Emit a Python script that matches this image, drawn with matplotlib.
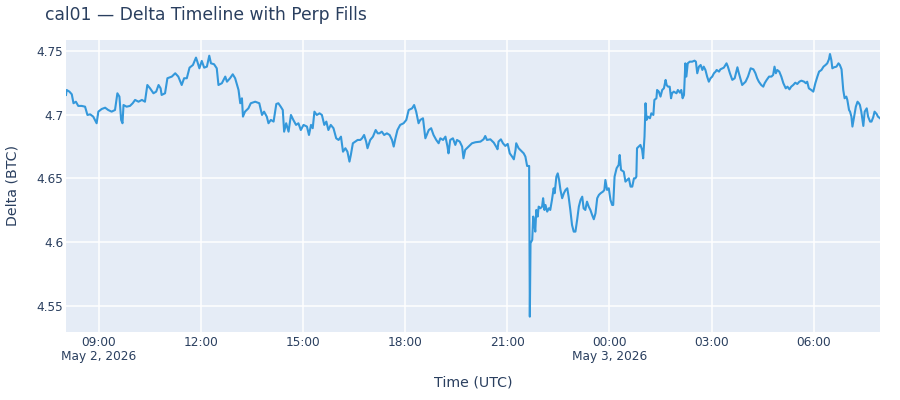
import matplotlib
matplotlib.use("Agg")
import matplotlib.pyplot as plt
import matplotlib.dates as mdates
from matplotlib.ticker import FuncFormatter
import pandas as pd

# hours since 2026-05-02 00:00 UTC
hours = [
    8.03, 8.05, 8.13, 8.20, 8.25, 8.32, 8.39, 8.49, 8.59, 8.66, 8.74, 8.83, 8.93, 8.98, 9.08, 9.18,
    9.27, 9.37, 9.47, 9.54, 9.60, 9.65, 9.69, 9.72, 9.81, 9.91, 9.99, 10.06, 10.16, 10.26, 10.35,
    10.42, 10.50, 10.60, 10.68, 10.75, 10.81, 10.84, 10.94, 11.01, 11.14, 11.24, 11.33, 11.43,
    11.50, 11.58, 11.66, 11.76, 11.85, 11.89, 11.95, 12.02, 12.09, 12.17, 12.24, 12.29, 12.38,
    12.46, 12.51, 12.61, 12.71, 12.76, 12.85, 12.93, 13.00, 13.10, 13.15, 13.20, 13.23, 13.29,
    13.39, 13.46, 13.59, 13.71, 13.79, 13.85, 13.93, 13.98,
    14.05, 14.13, 14.21, 14.27, 14.34, 14.40, 14.44, 14.50, 14.57, 14.64, 14.71, 14.79, 14.86,
    14.93, 15.01, 15.11, 15.17, 15.23, 15.28, 15.33, 15.40, 15.48, 15.55, 15.62, 15.68, 15.74,
    15.81, 15.89, 15.97, 16.04, 16.11, 16.17, 16.24, 16.30, 16.36, 16.40, 16.46, 16.53, 16.60,
    16.68, 16.73, 16.79, 16.85, 16.89, 16.97, 17.05, 17.13, 17.19, 17.24, 17.31, 17.38, 17.46,
    17.54, 17.61, 17.66, 17.71, 17.77, 17.85, 17.95, 18.03, 18.10, 18.20, 18.26, 18.32, 18.39,
    18.44, 18.52, 18.56, 18.59, 18.69, 18.76, 18.83, 18.91, 18.98, 19.03, 19.11, 19.18, 19.24,
    19.27, 19.32, 19.40, 19.47, 19.52, 19.60, 19.67, 19.71, 19.76, 19.86, 19.91,
    19.96, 20.06, 20.21, 20.30, 20.35, 20.40, 20.50, 20.60, 20.68, 20.71, 20.74, 20.81, 20.87,
    20.94, 21.01, 21.07, 21.14, 21.19, 21.24, 21.26, 21.33, 21.40, 21.48, 21.53, 21.58, 21.64,
    21.66, 21.68, 21.73, 21.76, 21.79, 21.82, 21.85, 21.89, 21.92, 21.97, 22.02, 22.05, 22.09,
    22.12, 22.17, 22.22, 22.26, 22.31, 22.36, 22.39, 22.44, 22.48, 22.52, 22.56, 22.61, 22.66,
    22.71, 22.76, 22.80, 22.85, 22.90, 22.95, 23.00, 23.05, 23.10, 23.15, 23.20, 23.24, 23.29,
    23.34, 23.39, 23.44, 23.49, 23.54, 23.59, 23.64, 23.69, 23.74, 23.81, 23.85, 23.88, 23.93,
    23.98, 24.03, 24.08, 24.11, 24.15, 24.21, 24.27, 24.30, 24.34, 24.42, 24.47, 24.52, 24.57,
    24.62, 24.67, 24.72, 24.76, 24.79, 24.81, 24.86,
    24.91, 24.96, 24.99, 25.03, 25.06, 25.09, 25.13, 25.19, 25.23, 25.29, 25.32, 25.38, 25.40,
    25.45, 25.50, 25.55, 25.60, 25.65, 25.68, 25.72, 25.77, 25.81, 25.84, 25.89, 25.97, 26.01,
    26.07, 26.11, 26.15, 26.19, 26.23, 26.26, 26.30, 26.36, 26.43, 26.50, 26.54, 26.58, 26.63,
    26.68, 26.73, 26.77, 26.82, 26.87, 26.92, 26.97, 27.02, 27.07, 27.12, 27.15, 27.22, 27.26,
    27.36, 27.44, 27.48, 27.54, 27.61, 27.68, 27.76, 27.79, 27.83, 27.90, 28.00, 28.07, 28.15,
    28.23, 28.29, 28.34, 28.39, 28.46, 28.52, 28.56, 28.62, 28.69, 28.76, 28.81, 28.85, 28.89,
    28.93, 28.99, 29.05, 29.11, 29.18, 29.23, 29.29, 29.34, 29.40, 29.46, 29.52, 29.58, 29.64,
    29.72, 29.77, 29.81, 29.86, 29.93, 29.99, 30.05, 30.11, 30.16, 30.23, 30.29, 30.35, 30.40,
    30.45, 30.48, 30.52, 30.55, 30.60, 30.67, 30.73, 30.77, 30.82, 30.87, 30.91, 30.96, 30.99,
    31.04, 31.07, 31.11, 31.14, 31.19, 31.24, 31.29, 31.33, 31.36, 31.40, 31.46, 31.50, 31.56,
    31.60, 31.66, 31.70, 31.75, 31.79, 31.85, 31.89, 31.95,
]

delta_btc = [
    4.7155, 4.7194, 4.7181, 4.7160, 4.7090, 4.7102, 4.7069, 4.7069, 4.7063, 4.6998, 4.7003, 4.6985,
    4.6933, 4.7024, 4.7045, 4.7055, 4.7037, 4.7024, 4.7037, 4.7168, 4.7142, 4.6959, 4.6933, 4.7076,
    4.7063, 4.7069, 4.7090, 4.7116, 4.7102, 4.7116, 4.7102, 4.7233, 4.7207, 4.7168, 4.7181, 4.7233,
    4.7207, 4.7155, 4.7168, 4.7286, 4.7299, 4.7325, 4.7299, 4.7233, 4.7286, 4.7286, 4.7369, 4.7390,
    4.7448, 4.7416, 4.7364, 4.7422, 4.7369, 4.7377, 4.7463, 4.7403, 4.7396, 4.7364, 4.7233, 4.7247,
    4.7299, 4.7259, 4.7286, 4.7317, 4.7286, 4.7194, 4.7090, 4.7129, 4.6985, 4.7024, 4.7050, 4.7090,
    4.7102, 4.7090, 4.6998, 4.7024, 4.6985, 4.6933,
    4.6959, 4.6946, 4.7084, 4.7090, 4.7063, 4.7037, 4.6867, 4.6933, 4.6867, 4.6998, 4.6959, 4.6920,
    4.6933, 4.6880, 4.6920, 4.6907, 4.6841, 4.6920, 4.6894, 4.7024, 4.6998, 4.7011, 4.6998, 4.6920,
    4.6946, 4.6880, 4.6920, 4.6894, 4.6815, 4.6802, 4.6828, 4.6710, 4.6737, 4.6710, 4.6632, 4.6684,
    4.6776, 4.6789, 4.6802, 4.6802, 4.6815, 4.6841, 4.6789, 4.6737, 4.6802, 4.6828, 4.6880, 4.6854,
    4.6854, 4.6867, 4.6841, 4.6854, 4.6841, 4.6802, 4.6750, 4.6815, 4.6880, 4.6920, 4.6933, 4.6959,
    4.7037, 4.7050, 4.7076, 4.7024, 4.6933, 4.6959, 4.6972, 4.6880, 4.6815, 4.6880, 4.6894, 4.6841,
    4.6802, 4.6776, 4.6815, 4.6802, 4.6828, 4.6750, 4.6697, 4.6802, 4.6815, 4.6763, 4.6802, 4.6789,
    4.6750, 4.6658, 4.6724, 4.6750, 4.6763,
    4.6776, 4.6784, 4.6789, 4.6807, 4.6833, 4.6802, 4.6807, 4.6781, 4.6745, 4.6729, 4.6789, 4.6807,
    4.6776, 4.6755, 4.6771, 4.6697, 4.6671, 4.6650, 4.6724, 4.6776, 4.6737, 4.6718, 4.6697, 4.6671,
    4.6598, 4.6598, 4.5416, 4.5992, 4.6018, 4.6201, 4.6149, 4.6083, 4.6253, 4.6201, 4.6279, 4.6266,
    4.6279, 4.6345, 4.6253, 4.6292, 4.6240, 4.6266, 4.6253, 4.6331, 4.6423, 4.6384, 4.6514, 4.6540,
    4.6488, 4.6410, 4.6345, 4.6384, 4.6410, 4.6423, 4.6357, 4.6253, 4.6135, 4.6083, 4.6083, 4.6175,
    4.6279, 4.6331, 4.6357, 4.6266, 4.6253, 4.6318, 4.6279, 4.6253, 4.6214, 4.6180, 4.6227, 4.6345,
    4.6371, 4.6384, 4.6397, 4.6410, 4.6488, 4.6410, 4.6423, 4.6331, 4.6292, 4.6292, 4.6514, 4.6580,
    4.6606, 4.6684, 4.6567, 4.6553, 4.6475, 4.6488, 4.6501, 4.6436, 4.6436, 4.6501, 4.6501, 4.6514,
    4.6737, 4.6750,
    4.6763, 4.6724, 4.6658, 4.6828, 4.7090, 4.6959, 4.6985, 4.6972, 4.7011, 4.6998, 4.7116, 4.7129,
    4.7194, 4.7181, 4.7142, 4.7194, 4.7207, 4.7273, 4.7233, 4.7220, 4.7220, 4.7129, 4.7168, 4.7181,
    4.7168, 4.7194, 4.7173, 4.7194, 4.7129, 4.7155, 4.7403, 4.7299, 4.7403, 4.7416, 4.7416, 4.7424,
    4.7416, 4.7325, 4.7377, 4.7390, 4.7351, 4.7377, 4.7351, 4.7299, 4.7259, 4.7286, 4.7299, 4.7325,
    4.7338, 4.7351, 4.7338, 4.7356, 4.7369, 4.7403, 4.7377, 4.7325, 4.7273, 4.7286, 4.7372, 4.7338,
    4.7299, 4.7233, 4.7259, 4.7299, 4.7364, 4.7356, 4.7325, 4.7286, 4.7259, 4.7233, 4.7220, 4.7247,
    4.7273, 4.7299, 4.7299, 4.7312, 4.7377, 4.7325, 4.7351, 4.7338, 4.7299, 4.7247, 4.7207, 4.7220,
    4.7199, 4.7220, 4.7233, 4.7251, 4.7241, 4.7259, 4.7267, 4.7259, 4.7247, 4.7259, 4.7207, 4.7194,
    4.7181, 4.7247, 4.7299, 4.7338, 4.7351, 4.7377, 4.7390, 4.7403, 4.7435, 4.7476, 4.7429, 4.7364,
    4.7372, 4.7377, 4.7403, 4.7390, 4.7356, 4.7194, 4.7129, 4.7142, 4.7116, 4.7037, 4.7024, 4.6985,
    4.6907, 4.6985, 4.7063, 4.7102, 4.7090, 4.7076, 4.7024, 4.6912, 4.7024, 4.7050, 4.6985, 4.6946,
    4.6946, 4.6980, 4.7024, 4.7006, 4.6985, 4.6972,
]

y_ticks = [4.55, 4.6, 4.65, 4.7, 4.75]
y_tick_labels = ["4.55", "4.6", "4.65", "4.7", "4.75"]

txt = "#2a3f5f"
plt.rcParams["font.family"] = ["DejaVu Sans"]

times = pd.Timestamp("2026-05-02") + pd.to_timedelta(hours, unit="h")

fig = plt.figure(figsize=(9, 4), dpi=100)
ax = fig.add_axes([66 / 900, 1 - 331.7 / 400, 814 / 900, 291.7 / 400])
ax.set_facecolor("#e5ecf6")

ax.plot(times, delta_btc, color="#3498db", linewidth=1.5, zorder=3)

ax.set_xlim(times[0], times[-1])
ax.set_ylim(4.5298, 4.7586)

ax.set_yticks(y_ticks)
ax.set_yticklabels(y_tick_labels)

ax.xaxis.set_major_locator(mdates.HourLocator(byhour=[0, 3, 6, 9, 12, 15, 18, 21]))


def fmt_time(x, pos):
    d = mdates.num2date(x)
    s = d.strftime("%H:%M")
    if pos == 0 or d.hour == 0:
        s += "\n" + d.strftime("%b ") + str(d.day) + d.strftime(", %Y")
    return s


ax.xaxis.set_major_formatter(FuncFormatter(fmt_time))

ax.grid(True, color="white", linewidth=1.1, zorder=0)
ax.set_axisbelow(True)
for sp in ax.spines.values():
    sp.set_visible(False)
ax.tick_params(axis="both", length=0, labelsize=8.7, colors=txt)
ax.tick_params(axis="x", pad=3)
ax.tick_params(axis="y", pad=2)
for lab in ax.get_xticklabels():
    lab.set_linespacing(1.15)

fig.text(45 / 900, 1 - 15 / 400, "cal01 — Delta Timeline with Perp Fills",
         fontsize=12.3, color=txt, ha="left", va="center")
fig.text(473 / 900, 1 - 383 / 400, "Time (UTC)", fontsize=10.2, color=txt,
         ha="center", va="center")
fig.text(13 / 900, 1 - 185 / 400, "Delta (BTC)", fontsize=10.2, color=txt,
         ha="center", va="center", rotation=90)

fig.savefig("out.png", dpi=100)
